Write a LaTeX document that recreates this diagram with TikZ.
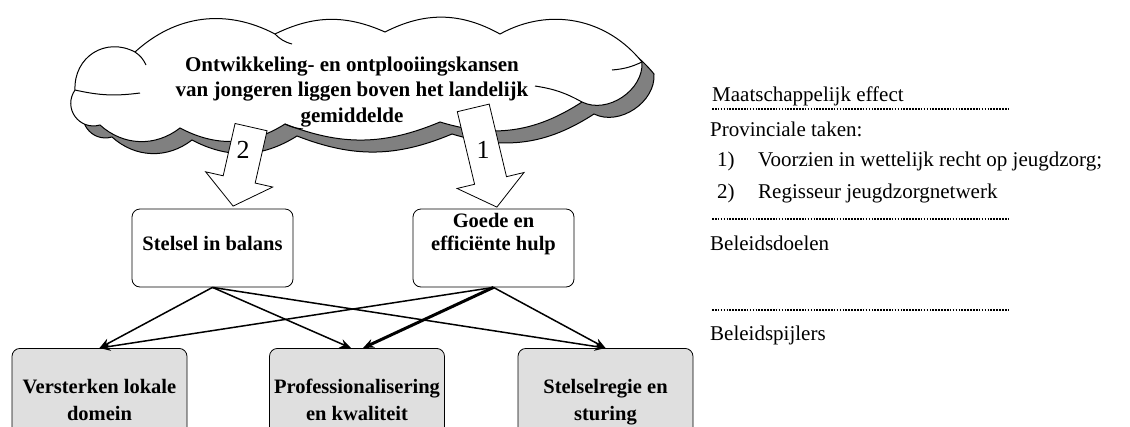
\documentclass[tikz,border=0pt]{standalone}
\usepackage{fontspec}
\setmainfont{Liberation Serif}
\usetikzlibrary{shapes,shapes.arrows,arrows.meta,positioning,calc}

% rand van de wolk (beeldcoordinaten)
\newcommand{\wolkrand}{(100,125) to[bend left=70, looseness=1.3] (75,90)
    to[bend left=60, looseness=1.2] (135,52)
    to[bend left=35] (275,34)
    to[bend left=25] (385,32)
    to[bend left=28] (500,34)
    to[bend left=40] (642,62)
    to[bend left=60] (582,102)
    to[bend left=25] (440,122)
    to[bend left=22] (285,124)
    to[bend left=30] (180,128)
    to[bend left=40] (100,125) -- cycle}

\begin{document}
\begin{tikzpicture}[
    x=1pt, y=-1pt,
    wolklijn/.style={
        draw=black,
        line width=1pt
    },
    wolktekst/.style={
        align=center,
        font=\fontsize{21}{25.5}\selectfont\bfseries
    },
    blokpijl/.style={
        single arrow,
        draw=black,
        fill=white,
        line width=0.8pt,
        inner xsep=0pt,
        inner ysep=16pt,
        single arrow head extend=18pt,
        single arrow tip angle=103
    },
    nummer/.style={
        font=\fontsize{26}{26}\selectfont
    },
    doel/.style={
        rectangle,
        rounded corners=8pt,
        draw=black,
        fill=white,
        line width=0.8pt,
        minimum width=161pt,
        minimum height=78pt,
        align=center,
        font=\fontsize{20.5}{23}\selectfont\bfseries
    },
    pijler/.style={
        doel,
        fill=gray!25,
        minimum width=175pt,
        minimum height=108pt,
        anchor=north,
        text height=41pt,
        text depth=5pt,
        font=\fontsize{20.5}{27}\selectfont\bfseries
    },
    arrow/.style={
        ->,
        >={Stealth[length=11pt, width=9pt]},
        line width=1.5pt
    },
    dikarrow/.style={
        ->,
        >={Stealth[length=11pt, width=9pt]},
        line width=3pt
    },
    laag/.style={
        anchor=base west,
        inner sep=0pt,
        font=\fontsize{21}{25}\selectfont
    },
    scheiding/.style={
        line width=2.2pt,
        dash pattern=on 1.6pt off 1.3pt
    }
]
\useasboundingbox (0,0) rectangle (1130,426);

% Maatschappelijk effect (wolk met schaduw)
\foreach \d/\kleur in {12/gray, 0/white}
    \draw[wolklijn, fill=\kleur, shift={(\d,\d)}] \wolkrand;
\draw[wolklijn] (75,90) to[bend right=10] (140,93);
\draw[wolklijn] (135,52) to[bend left=15] (146,65);
\draw[wolklijn] (275,34) to[bend right=15] (292,44);
\draw[wolklijn] (642,62) to[bend left=10] (612,70);
\draw[wolklijn] (582,102) to[bend right=10] (535,86);
\draw[wolklijn] (285,124) to[bend right=10] (303,129);
\node[wolktekst] (effecttekst) at (352,92) {Ontwikkeling- en ontplooiingskansen\\van jongeren liggen boven het landelijk\\gemiddelde};

% Beleidsdoelen
\node[doel, text height=14pt, text depth=10pt] (stelsel) at (212.5,248) {Stelsel in balans};
\node[doel, text depth=33pt] (goede) at (493.5,248) {Goede en\\efficiënte hulp};

% Blokpijlen vanuit de wolk
\node[blokpijl, rotate=-102.8, minimum height=81pt, anchor=tip] (pijl2) at ($(stelsel.north)+(20.5,-2)$) {};
\node[blokpijl, rotate=-76.6, minimum height=102pt, anchor=tip] (pijl1) at ($(goede.north)+(3.5,-1)$) {};
\node[nummer] (nr2) at (243,150) {2};
\node[nummer] (nr1) at (483,150) {1};

% Beleidspijlers
\node[pijler] (versterken) at (99.5,348) {Versterken lokale\\domein};
\node[pijler] (prof) at (357,348) {Professionalisering\\en kwaliteit};
\node[pijler] (regie) at (605.5,348) {Stelselregie en\\sturing};

% Verbindingen doelen - pijlers
\draw[arrow] (stelsel.south) -- (versterken.north);
\draw[arrow] (stelsel.south) -- ([xshift=-6pt]prof.north);
\draw[arrow] (stelsel.south) -- (regie.north);
\draw[arrow] (goede.south) -- (versterken.north);
\draw[dikarrow] (goede.south) -- ([xshift=6pt]prof.north);
\draw[arrow] (goede.south) -- (regie.north);

% Legenda rechts
\node[laag] (effect) at (712,101) {Maatschappelijk effect};
\draw[scheiding] (712,109) -- (1008,109);
\node[laag] (taken) at (710,136) {Provinciale taken:};
\node[laag] (nr1taak) at (717,166) {1)};
\node[laag] (taak1) at (758,166) {Voorzien in wettelijk recht op jeugdzorg;};
\node[laag] (nr2taak) at (717,198) {2)};
\node[laag] (taak2) at (758,198) {Regisseur jeugdzorgnetwerk};
\draw[scheiding] (712,219) -- (1008,219);
\node[laag] (doelen) at (710,250) {Beleidsdoelen};
\draw[scheiding] (712,310) -- (1008,310);
\node[laag] (pijlers) at (710,340) {Beleidspijlers};

\end{tikzpicture}
\end{document}
